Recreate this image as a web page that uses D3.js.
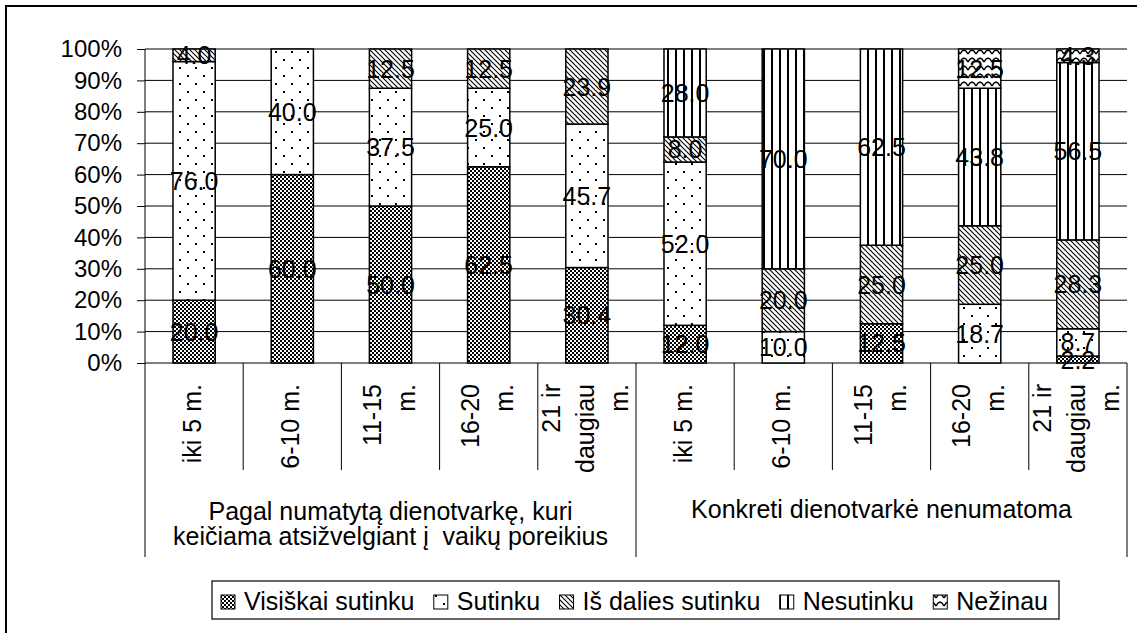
<!DOCTYPE html>
<html>
<head>
<meta charset="utf-8">
<script src="https://cdn.jsdelivr.net/npm/d3@7/dist/d3.min.js"></script>
<style>
body{margin:0;background:#fff;}
text{font-family:"Liberation Sans",Arial,sans-serif;fill:#000;}
</style>
</head>
<body>
<div id="canvas" class="canvas" style="width:1145px;height:633px;"></div>
<script>
// two main groups and the age categories inside each
var groupLabels = [
    ['Pagal numatytą dienotvarkę, kuri', 'keičiama atsižvelgiant į  vaikų poreikius'],
    ['Konkreti dienotvarkė nenumatoma']
];
var ageLabels = [['iki 5 m.'], ['6-10 m.'], ['11-15', 'm.'], ['16-20', 'm.'], ['21 ir', 'daugiau', 'm.']];
var seriesNames = ['Visiškai sutinku', 'Sutinku', 'Iš dalies sutinku', 'Nesutinku', 'Nežinau'];

// percentages per bar (group 1: 5 bars, group 2: 5 bars)
var visiskai  = [20.0, 60.0, 50.0, 62.5, 30.4, 12.0, 0,    12.5, 0,    2.2];
var sutinku   = [76.0, 40.0, 37.5, 25.0, 45.7, 52.0, 10.0, 0,    18.7, 8.7];
var isDalies  = [4.0,  0,    12.5, 12.5, 23.9, 8.0,  20.0, 25.0, 25.0, 28.3];
var nesutinku = [0,    0,    0,    0,    0,    28.0, 70.0, 62.5, 43.8, 56.5];
var nezinau   = [0,    0,    0,    0,    0,    0,    0,    0,    12.5, 4.3];

var yTicks = [0, 10, 20, 30, 40, 50, 60, 70, 80, 90, 100];

var seriesValues = [visiskai, sutinku, isDalies, nesutinku, nezinau];
var patternIds = ['pCheck', 'pDots', 'pDiag', 'pVert', 'pWave'];

var W = 1145, H = 633;
var m = {l: 145, r: 1127, t: 49, b: 363};

var svg = d3.select('.canvas')
    .append('svg')
    .attr('width', W)
    .attr('height', H)
    .style('display', 'block');

svg.append('rect').attr('width', W).attr('height', H).attr('fill', '#fff');

// fill patterns like the old office chart
var defs = svg.append('defs');

var p = defs.append('pattern').attr('id', 'pCheck').attr('patternUnits', 'userSpaceOnUse')
    .attr('width', 4).attr('height', 4);
p.append('rect').attr('width', 4).attr('height', 4).attr('fill', '#fff');
p.append('rect').attr('width', 2).attr('height', 2).attr('fill', '#000');
p.append('rect').attr('x', 2).attr('y', 2).attr('width', 2).attr('height', 2).attr('fill', '#000');

p = defs.append('pattern').attr('id', 'pDots').attr('patternUnits', 'userSpaceOnUse')
    .attr('width', 16).attr('height', 16);
p.append('rect').attr('width', 16).attr('height', 16).attr('fill', '#fff');
p.append('rect').attr('x', 3).attr('y', 3).attr('width', 2).attr('height', 2).attr('fill', '#000');
p.append('rect').attr('x', 11).attr('y', 11).attr('width', 2).attr('height', 2).attr('fill', '#000');

p = defs.append('pattern').attr('id', 'pDiag').attr('patternUnits', 'userSpaceOnUse')
    .attr('width', 5).attr('height', 5);
p.append('rect').attr('width', 5).attr('height', 5).attr('fill', '#fff');
p.append('path').attr('d', 'M-1,-1L6,6M-1,4L1,6M4,-1L6,1')
    .attr('stroke', '#000').attr('stroke-width', 1.1);

p = defs.append('pattern').attr('id', 'pVert').attr('patternUnits', 'userSpaceOnUse')
    .attr('width', 8).attr('height', 8);
p.append('rect').attr('width', 8).attr('height', 8).attr('fill', '#fff');
p.append('rect').attr('x', 3).attr('width', 2).attr('height', 8).attr('fill', '#000');

p = defs.append('pattern').attr('id', 'pWave').attr('patternUnits', 'userSpaceOnUse')
    .attr('width', 8).attr('height', 8);
p.append('rect').attr('width', 8).attr('height', 8).attr('fill', '#fff');
p.append('path').attr('d', 'M0,6L2,3L4,2L6,3L8,6')
    .attr('fill', 'none').attr('stroke', '#000').attr('stroke-width', 1.4);

// outer chart frame (cut on the right and bottom)
svg.append('path').attr('d', 'M1137,6H6V' + H)
    .attr('fill', 'none').attr('stroke', '#000').attr('stroke-width', 2);

// build rows for the stack
var cats = [];
groupLabels.forEach(function(g, gi){
    ageLabels.forEach(function(a, ai){
        cats.push({group: gi, lines: a});
    });
});
var rows = cats.map(function(c, i){
    var r = {i: i};
    seriesNames.forEach(function(s, si){ r[s] = seriesValues[si][i]; });
    return r;
});

var x = d3.scaleBand()
    .domain(d3.range(cats.length))
    .range([m.l, m.r])
    .paddingInner(0.57)
    .paddingOuter(0.285);

var y = d3.scaleLinear()
    .domain([0, 100])
    .range([m.b, m.t]);

// gridlines
svg.append('g').selectAll('line')
    .data(yTicks)
    .enter().append('line')
    .attr('x1', m.l).attr('x2', m.r)
    .attr('y1', function(d){ return y(d); })
    .attr('y2', function(d){ return y(d); })
    .attr('stroke', '#000').attr('stroke-width', 1);

// y axis
var yAxis = d3.axisLeft(y)
    .tickValues(yTicks)
    .tickSize(8)
    .tickSizeOuter(0)
    .tickPadding(15)
    .tickFormat(function(d){ return d + '%'; });
var ya = svg.append('g')
    .attr('transform', 'translate(' + m.l + ',0)')
    .call(yAxis);
ya.select('.domain').remove();
ya.selectAll('.tick line').attr('stroke', '#000');
ya.selectAll('.tick text')
    .style('font-family', '"Liberation Sans",Arial,sans-serif')
    .style('font-size', '24px').attr('fill', '#000');

// category axis: boundaries between bars and groups
var step = x.step();
var bounds = d3.range(cats.length + 1);
svg.append('g').selectAll('line')
    .data(bounds)
    .enter().append('line')
    .attr('x1', function(d){ return m.l + d * step; })
    .attr('x2', function(d){ return m.l + d * step; })
    .attr('y1', m.b)
    .attr('y2', function(d){ return d % 5 === 0 ? 557 : 470; })
    .attr('stroke', '#000').attr('stroke-width', 1);
svg.append('line').attr('x1', m.l).attr('x2', m.l).attr('y1', m.t).attr('y2', m.b)
    .attr('stroke', '#000').attr('stroke-width', 1);

// stacked bars
var stack = d3.stack().keys(seriesNames);
var layers = stack(rows);

var layerG = svg.selectAll('.layer')
    .data(layers)
    .enter().append('g').attr('class', 'layer')
    .attr('fill', function(d, i){ return 'url(#' + patternIds[i] + ')'; });

layerG.selectAll('rect')
    .data(function(d){ return d.filter(function(s){ return s[1] - s[0] > 0; }); })
    .enter().append('rect')
    .attr('x', function(d){ return x(d.data.i); })
    .attr('width', x.bandwidth())
    .attr('y', function(d){ return y(d[1]); })
    .attr('height', function(d){ return y(d[0]) - y(d[1]); })
    .attr('stroke', '#000').attr('stroke-width', 1.5);

// data labels
layers.forEach(function(layer){
    svg.append('g').selectAll('text')
        .data(layer.filter(function(s){ return s[1] - s[0] > 0; }))
        .enter().append('text')
        .attr('x', function(d){ return x(d.data.i) + x.bandwidth() / 2; })
        .attr('y', function(d){ return y((d[0] + d[1]) / 2); })
        .attr('dy', '0.36em')
        .attr('text-anchor', 'middle')
        .style('font-size', '25px')
        .text(function(d){ return (d[1] - d[0]).toFixed(1); });
});

// rotated age labels
var catText = svg.append('g').selectAll('text')
    .data(cats)
    .enter().append('text')
    .attr('transform', function(d, i){
        var cx = x(i) + x.bandwidth() / 2 + 7;
        return 'translate(' + cx + ',384) rotate(-90)';
    })
    .attr('text-anchor', 'end')
    .style('font-size', '25px');
catText.selectAll('tspan')
    .data(function(d){
        return d.lines.map(function(l, j){ return {t: l, off: (j - (d.lines.length - 1) / 2) * 34}; });
    })
    .enter().append('tspan')
    .attr('x', 0)
    .attr('y', function(d){ return d.off; })
    .text(function(d){ return d.t; });

// group labels
var groupBase = [520, 518];
groupLabels.forEach(function(lines, gi){
    var cx = m.l + step * 5 * gi + step * 2.5;
    svg.append('text')
        .attr('text-anchor', 'middle')
        .style('font-size', '25px')
        .style('white-space', 'pre')
        .selectAll('tspan')
        .data(lines)
        .enter().append('tspan')
        .attr('x', cx)
        .attr('y', function(d, j){ return groupBase[gi] + j * 25; })
        .text(function(d){ return d; });
});

// legend
var lg = {x: 212, y: 581, w: 847, h: 38};
svg.append('rect')
    .attr('x', lg.x).attr('y', lg.y).attr('width', lg.w).attr('height', lg.h)
    .attr('fill', '#fff').attr('stroke', '#333').attr('stroke-width', 1.5);

var legendItems = svg.append('g').selectAll('g')
    .data(seriesNames)
    .enter().append('g');
legendItems.append('rect')
    .attr('width', 14).attr('height', 14)
    .attr('y', lg.y + 14)
    .attr('fill', function(d, i){ return 'url(#' + patternIds[i] + ')'; })
    .attr('stroke', '#000').attr('stroke-width', 1);
legendItems.append('text')
    .attr('y', lg.y + 20)
    .attr('dy', '0.36em')
    .style('font-size', '25px')
    .text(function(d){ return d; });

var widths = [];
legendItems.selectAll('text').each(function(){ widths.push(this.getComputedTextLength()); });
var padL = 9, padR = 11, gapSw = 9;
var used = d3.sum(widths) + seriesNames.length * (14 + gapSw) + padL + padR;
var itemGap = (lg.w - used) / (seriesNames.length - 1);
var cur = lg.x + padL;
legendItems.each(function(d, i){
    var g = d3.select(this);
    g.select('rect').attr('x', cur);
    g.select('text').attr('x', cur + 14 + gapSw);
    cur += 14 + gapSw + widths[i] + itemGap;
});
</script>
</body>
</html>
